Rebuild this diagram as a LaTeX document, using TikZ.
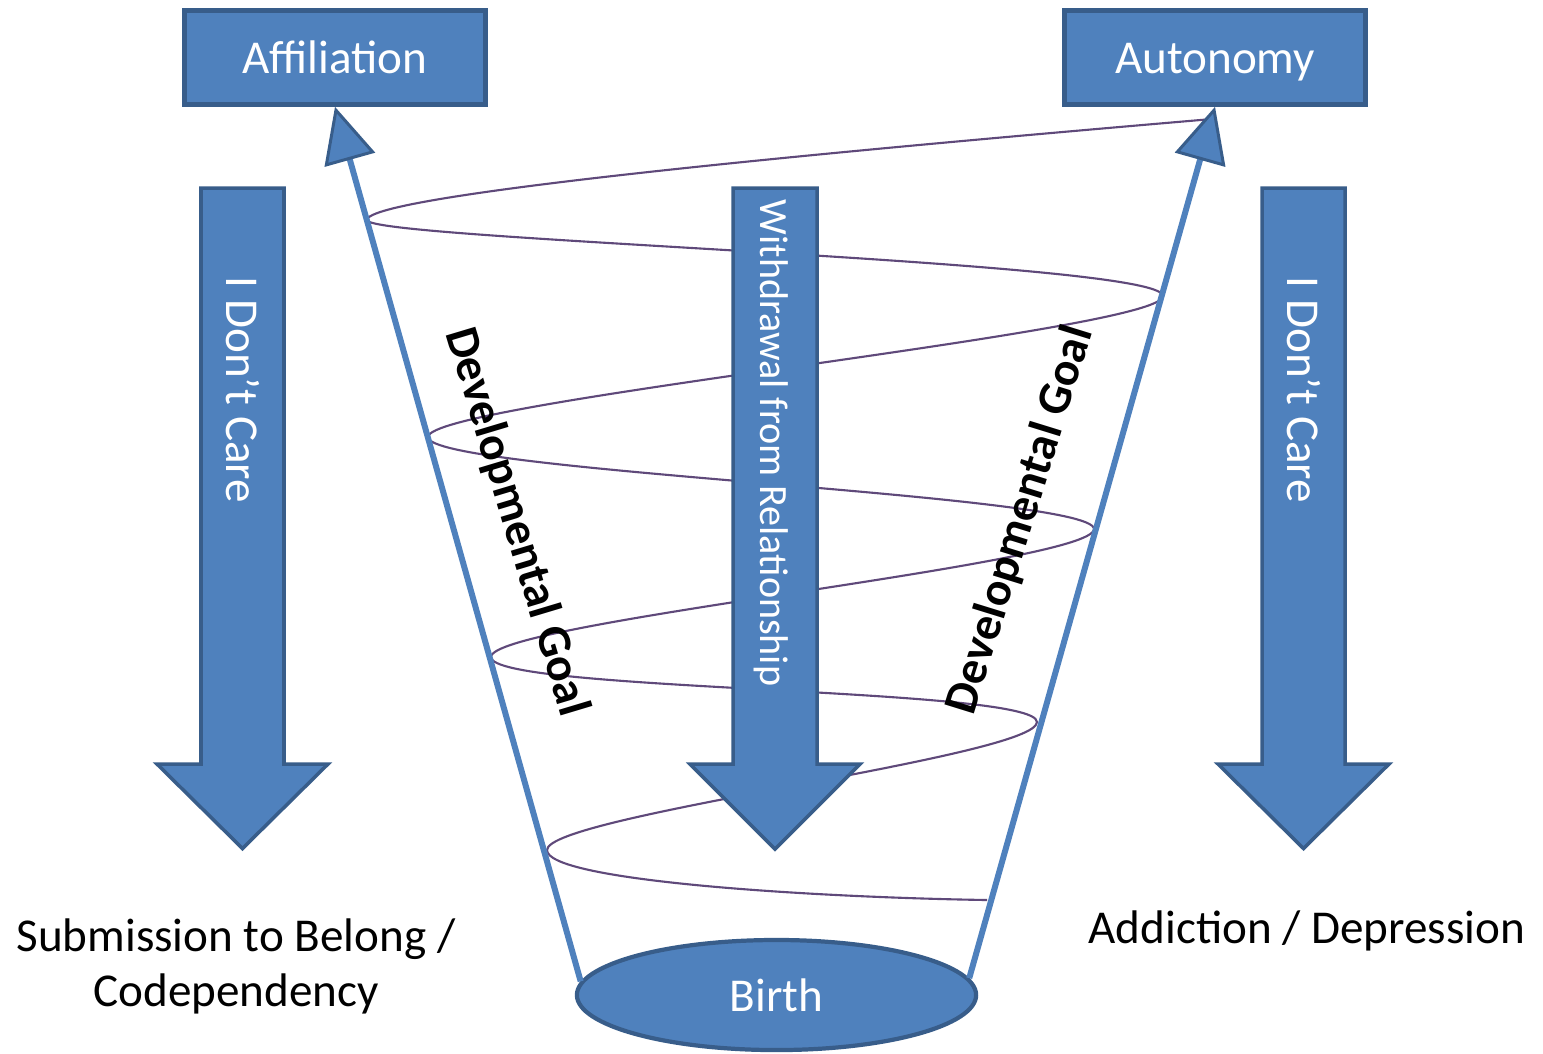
\documentclass[tikz,border=0pt]{standalone}
\usepackage{fontspec}
\setmainfont{Carlito}
\usetikzlibrary{arrows.meta,shapes.geometric}
\definecolor{shapefill}{HTML}{4F81BD}
\definecolor{shapeline}{HTML}{385D8A}
\definecolor{spiralcol}{HTML}{5F497A}
\begin{document}
\begin{tikzpicture}[x=0.01cm,y=-0.01cm,
  topbox/.style={rectangle, draw=shapeline, fill=shapefill, line width=1.3pt, minimum width=3.01cm, minimum height=0.94cm, inner sep=0pt, text height=9pt, text depth=0pt, text=white, font=\fontsize{13.4pt}{16pt}\selectfont},
  birthshape/.style={ellipse, draw=shapeline, fill=shapefill, line width=1.2pt, minimum width=3.99cm, minimum height=1.10cm, inner sep=0pt, text=white, font=\fontsize{13.4pt}{16pt}\selectfont},
  downarrow/.style={draw=shapeline, fill=shapefill, line width=1pt, line join=miter},
  arrowtext/.style={text=white, rotate=-90, inner sep=0pt, font=\fontsize{13.4pt}{16pt}\selectfont},
  midtext/.style={text=white, rotate=-90, inner sep=0pt, font=\fontsize{11.4pt}{14pt}\selectfont},
  coneline/.style={draw=shapefill, line width=1.7pt, -{Triangle[length=0.55cm, width=0.52cm, fill=shapefill, color=shapeline, line width=0.85pt]}},
  spiralline/.style={draw=spiralcol, line width=0.6pt},
  goaltext/.style={inner sep=0pt, font=\bfseries\fontsize{13.5pt}{16pt}\selectfont},
  outcome/.style={inner sep=0pt, align=center, font=\fontsize{13.4pt}{15.65pt}\selectfont}
]
\fill[white] (0,0) rectangle (1543,1053);
\useasboundingbox (0,0) rectangle (1543,1053);

% spiral (behind everything)
\coordinate (sp0) at (1212,119);
\coordinate (sp1) at (987,900);
\draw[spiralline] (sp0) .. controls (850,150) and (368,194) .. (367,220)
 .. controls (367,240) and (1163,261) .. (1163,296)
 .. controls (1163,331) and (428,402) .. (428,437)
 .. controls (428,472) and (1094,494) .. (1094,529)
 .. controls (1094,564) and (491,622) .. (491,657)
 .. controls (491,692) and (1037,687) .. (1037,722)
 .. controls (1037,757) and (547,815) .. (547,850)
 .. controls (547,880) and (800,897) .. (sp1);

% big down arrows
\draw[downarrow] (201,188) -- (284,188) -- (284,764) -- (328,764) -- (242.5,848.5) -- (157,764) -- (201,764) -- cycle;
\draw[downarrow] (733,188) -- (817,188) -- (817,764) -- (860,764) -- (775,849) -- (690,764) -- (733,764) -- cycle;
\draw[downarrow] (1262,188) -- (1345,188) -- (1345,764) -- (1389,764) -- (1303.5,848.5) -- (1218,764) -- (1262,764) -- cycle;

\node[arrowtext] (careL) at (243,390) {I Don’t Care};
\node[midtext] (withdraw) at (771,443) {Withdrawal from Relationship};
\node[arrowtext] (careR) at (1304,390) {I Don’t Care};

% boxes and ellipse
\node[topbox] (affil) at (335,57.5) {Affiliation};
\node[topbox] (auton) at (1215,57.5) {Autonomy};
\node[birthshape] (birth) at (776.5,995) {Birth};

% cone lines
\draw[coneline] (birth.176) -- (affil.south);
\draw[coneline] (birth.5) -- (auton.south);

% labels
\node[goaltext, rotate=-73.3] (goalL) at (516,522) {Developmental Goal};
\node[goaltext, rotate=72.8] (goalR) at (1021,520) {Developmental Goal};

\node[outcome] (submit) at (236,966) {Submission to Belong /\\Codependency};
\node[outcome, anchor=base] (addict) at (1307,943) {Addiction / Depression};
\end{tikzpicture}
\end{document}
